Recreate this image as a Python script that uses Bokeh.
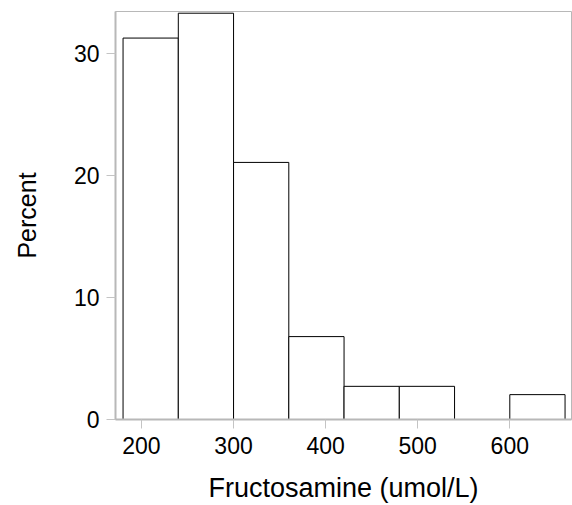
from bokeh.plotting import figure
from bokeh.models import Range1d, FixedTicker, ColumnDataSource
from bokeh.embed import file_html
from bokeh.resources import INLINE

# Histogram data (percent of observations per bin)
bin_left = [180, 240, 300, 360, 420, 480, 540, 600]
bin_width = 60
percent = [31.29, 33.33, 21.09, 6.80, 2.72, 2.72, 0.0, 2.04]
x_ticks = [200, 300, 400, 500, 600]
y_ticks = [0, 10, 20, 30]

lefts = [l for l, v in zip(bin_left, percent) if v > 0]
rights = [l + bin_width for l, v in zip(bin_left, percent) if v > 0]
tops = [v for v in percent if v > 0]
src = ColumnDataSource(dict(left=lefts, right=rights, top=tops, bottom=[0] * len(tops)))

p = figure(width=572, height=505, output_backend="svg", toolbar_location=None,
           x_range=Range1d(171.8, 667), y_range=Range1d(0, 33.47),
           min_border_left=115, min_border_right=1, min_border_top=11, min_border_bottom=82)

p.quad(left="left", right="right", top="top", bottom="bottom", source=src,
       fill_color="white", line_color="black", line_width=1)

p.xgrid.visible = False
p.ygrid.visible = False
p.outline_line_color = "#b8b8b8"
p.outline_line_width = 1

FONT = "Liberation Sans"
for ax, ticks in ((p.xaxis, x_ticks), (p.yaxis, y_ticks)):
    ax.ticker = FixedTicker(ticks=ticks)
    ax.minor_tick_line_color = None
    ax.major_tick_in = 0
    ax.major_tick_out = 9
    ax.major_tick_line_color = "#c4c4c4"
    ax.axis_line_color = "#b8b8b8"
    ax.axis_line_width = 2
    ax.major_label_text_font = FONT
    ax.major_label_text_font_size = "23px"
    ax.major_label_text_color = "black"
    ax.axis_label_text_font = FONT
    ax.axis_label_text_font_style = "normal"
    ax.axis_label_text_color = "black"

p.xaxis.axis_label = "Fructosamine (umol/L)"
p.xaxis.axis_label_text_font_size = "27px"
p.xaxis.major_label_standoff = 8
p.xaxis.axis_label_standoff = 16

p.yaxis.axis_label = "Percent"
p.yaxis.axis_label_text_font_size = "25px"
p.yaxis.major_label_standoff = 7
p.yaxis.axis_label_standoff = 30

open("out.html", "w").write(file_html(p, INLINE))
